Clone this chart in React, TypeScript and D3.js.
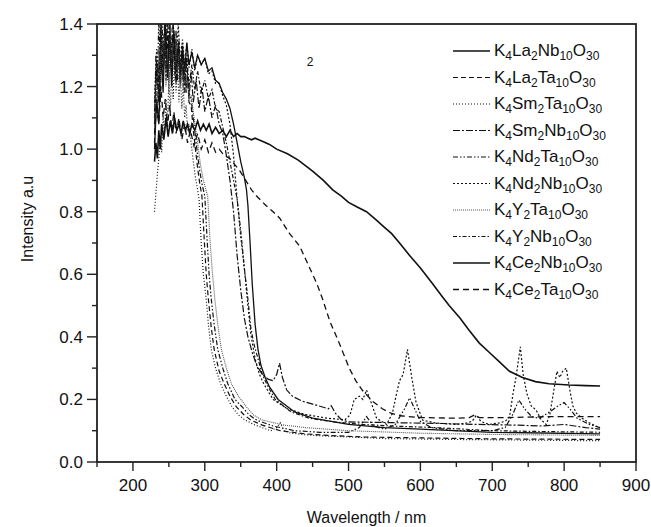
import React from "react";
import * as d3 from "d3";

type P = [number, number];

const xTicks = [200, 300, 400, 500, 600, 700, 800, 900];
const yTicks = [0.0, 0.2, 0.4, 0.6, 0.8, 1.0, 1.2, 1.4];

const La2Nb: P[] = [[230,1.00],[233,1.16],[236,1.08],[239,1.30],[242,1.18],[245,1.40],[248,1.24],[251,1.34],[254,1.20],[257,1.38],[260,1.26],[263,1.32],[266,1.22],[269,1.33],[272,1.25],[275,1.34],[278,1.27],[282,1.31],[286,1.26],[290,1.30],[295,1.27],[300,1.29],[305,1.25],[310,1.26],[315,1.22],[320,1.21],[325,1.18],[330,1.16],[335,1.13],[340,1.08],[345,1.02],[350,0.96],[355,0.91],[358,0.87],[360,0.82],[363,0.70],[366,0.57],[370,0.44],[374,0.36],[378,0.31],[384,0.27],[390,0.24],[402,0.20],[425,0.16],[450,0.14],[500,0.12],[550,0.11],[600,0.105],[700,0.095],[850,0.09]];

const La2Ta: P[] = [[230,1.02],[232,1.18],[234,1.10],[236,1.28],[238,1.15],[240,1.36],[242,1.20],[244,1.42],[246,1.25],[248,1.38],[250,1.22],[252,1.45],[254,1.28],[256,1.40],[258,1.24],[260,1.38],[262,1.26],[264,1.35],[266,1.22],[268,1.33],[270,1.20],[272,1.28],[274,1.18],[276,1.24],[278,1.15],[281,1.14],[284,1.06],[287,1.00],[290,0.94],[293,0.89],[296,0.85],[299,0.72],[302,0.60],[305,0.52],[309,0.43],[313,0.36],[320,0.29],[327,0.25],[335,0.21],[344,0.176],[354,0.152],[364,0.134],[380,0.118],[405,0.10],[440,0.09],[470,0.085],[520,0.08],[600,0.077],[700,0.074],[850,0.072]];

const Sm2Ta: P[] = [[230,0.80],[232,0.86],[234,0.92],[236,0.97],[238,1.04],[240,0.99],[242,1.10],[244,1.05],[246,1.16],[248,1.08],[250,1.22],[252,1.12],[254,1.26],[256,1.16],[258,1.30],[260,1.18],[262,1.28],[264,1.15],[266,1.24],[268,1.13],[270,1.20],[272,1.10],[274,1.14],[276,1.06],[278,1.08],[281,1.02],[284,0.96],[287,0.91],[290,0.87],[292,0.84],[295,0.70],[298,0.60],[302,0.52],[305,0.44],[309,0.36],[315,0.30],[322,0.25],[330,0.21],[338,0.176],[347,0.15],[356,0.134],[370,0.118],[392,0.10],[400,0.11],[405,0.125],[410,0.10],[420,0.092],[450,0.085],[500,0.08],[550,0.075],[650,0.072],[750,0.07],[850,0.068]];

const Sm2Nb: P[] = [[230,1.08],[233,1.25],[236,1.15],[239,1.38],[242,1.22],[245,1.45],[248,1.26],[251,1.40],[254,1.24],[257,1.35],[260,1.22],[263,1.33],[266,1.20],[269,1.30],[272,1.18],[275,1.28],[278,1.16],[281,1.25],[284,1.15],[288,1.22],[292,1.13],[296,1.20],[300,1.12],[305,1.17],[310,1.10],[315,1.14],[320,1.08],[325,1.05],[330,0.98],[335,0.90],[340,0.80],[345,0.66],[350,0.55],[355,0.46],[360,0.40],[366,0.35],[372,0.31],[380,0.28],[388,0.265],[395,0.26],[400,0.28],[404,0.316],[408,0.27],[414,0.23],[422,0.21],[435,0.195],[450,0.185],[465,0.175],[472,0.17],[476,0.18],[482,0.155],[490,0.135],[500,0.128],[530,0.127],[580,0.125],[630,0.123],[680,0.12],[730,0.118],[770,0.115],[800,0.12],[830,0.11],[850,0.105]];

const Nd2Ta: P[] = [[230,1.10],[232,1.30],[234,1.20],[236,1.42],[238,1.26],[240,1.45],[242,1.30],[244,1.38],[246,1.22],[248,1.44],[250,1.30],[252,1.36],[254,1.25],[256,1.42],[258,1.28],[260,1.34],[262,1.22],[264,1.32],[266,1.25],[268,1.30],[270,1.22],[272,1.27],[274,1.20],[276,1.23],[278,1.18],[281,1.16],[284,1.10],[287,1.04],[290,0.98],[293,0.93],[296,0.89],[300,0.85],[303,0.72],[306,0.60],[309,0.52],[313,0.44],[318,0.36],[325,0.30],[332,0.25],[342,0.20],[352,0.176],[362,0.15],[372,0.134],[395,0.115],[425,0.10],[460,0.095],[500,0.095],[515,0.11],[525,0.145],[535,0.115],[550,0.105],[565,0.12],[578,0.17],[585,0.205],[592,0.17],[600,0.13],[615,0.11],[650,0.10],[700,0.10],[718,0.11],[728,0.15],[737,0.198],[745,0.17],[755,0.145],[765,0.14],[780,0.16],[792,0.18],[800,0.19],[808,0.17],[818,0.14],[835,0.12],[850,0.11]];

const Nd2Nb: P[] = [[230,1.15],[233,1.32],[236,1.20],[239,1.44],[242,1.28],[245,1.38],[248,1.24],[251,1.42],[254,1.30],[257,1.37],[260,1.26],[263,1.40],[266,1.28],[269,1.35],[272,1.27],[275,1.34],[278,1.26],[282,1.32],[286,1.25],[290,1.30],[295,1.27],[300,1.29],[305,1.24],[310,1.25],[315,1.21],[320,1.21],[325,1.17],[330,1.14],[335,1.08],[340,0.98],[345,0.84],[350,0.72],[355,0.62],[360,0.50],[364,0.41],[370,0.33],[376,0.28],[382,0.25],[395,0.20],[415,0.17],[440,0.152],[470,0.14],[495,0.135],[502,0.15],[508,0.20],[515,0.21],[520,0.20],[525,0.23],[530,0.20],[539,0.14],[553,0.12],[561,0.155],[566,0.21],[571,0.26],[576,0.28],[582,0.36],[588,0.27],[594,0.19],[603,0.134],[620,0.125],[650,0.12],[665,0.125],[672,0.13],[678,0.15],[684,0.13],[695,0.12],[710,0.125],[718,0.13],[724,0.144],[729,0.22],[733,0.27],[739,0.368],[743,0.28],[748,0.22],[754,0.18],[761,0.166],[768,0.135],[775,0.12],[780,0.15],[785,0.22],[790,0.29],[794,0.27],[798,0.29],[803,0.30],[808,0.23],[812,0.18],[817,0.156],[825,0.14],[835,0.125],[849,0.11]];

const Y2Ta: P[] = [[230,1.05],[232,1.22],[234,1.14],[236,1.33],[238,1.20],[240,1.40],[242,1.24],[244,1.36],[246,1.20],[248,1.32],[250,1.18],[252,1.40],[254,1.26],[256,1.34],[258,1.22],[260,1.36],[262,1.24],[264,1.31],[266,1.20],[268,1.28],[270,1.19],[272,1.26],[274,1.18],[276,1.22],[278,1.16],[281,1.17],[284,1.12],[287,1.07],[290,1.02],[294,0.95],[298,0.90],[304,0.85],[307,0.72],[310,0.62],[314,0.52],[318,0.44],[323,0.36],[330,0.30],[337,0.25],[347,0.21],[358,0.176],[368,0.15],[380,0.134],[410,0.118],[440,0.11],[500,0.10],[600,0.092],[700,0.088],[850,0.085]];

const Y2Nb: P[] = [[230,1.12],[233,1.28],[236,1.18],[239,1.40],[242,1.24],[245,1.36],[248,1.22],[251,1.38],[254,1.25],[257,1.33],[260,1.21],[263,1.34],[266,1.24],[269,1.30],[272,1.22],[275,1.30],[278,1.20],[282,1.27],[286,1.19],[290,1.25],[295,1.18],[300,1.22],[305,1.16],[310,1.19],[315,1.13],[320,1.12],[325,1.07],[330,1.02],[335,0.96],[340,0.90],[345,0.84],[350,0.74],[355,0.62],[360,0.52],[364,0.43],[368,0.38],[374,0.33],[380,0.28],[386,0.25],[398,0.20],[420,0.16],[445,0.14],[480,0.128],[520,0.12],[560,0.115],[620,0.11],[700,0.10],[780,0.097],[850,0.095]];

const Ce2Nb: P[] = [[230,0.96],[232,1.02],[234,0.97],[236,1.06],[238,1.00],[240,1.08],[243,1.03],[246,1.10],[249,1.04],[252,1.09],[255,1.05],[258,1.10],[261,1.06],[264,1.08],[267,1.05],[270,1.09],[273,1.06],[276,1.08],[279,1.05],[282,1.08],[286,1.06],[290,1.09],[294,1.06],[298,1.08],[302,1.06],[306,1.08],[310,1.05],[315,1.07],[320,1.05],[325,1.06],[330,1.04],[335,1.06],[340,1.04],[345,1.05],[350,1.04],[355,1.04],[360,1.035],[365,1.03],[370,1.035],[375,1.03],[380,1.025],[390,1.015],[400,1.00],[415,0.985],[430,0.965],[450,0.93],[465,0.90],[478,0.87],[490,0.85],[500,0.83],[512,0.815],[525,0.80],[538,0.775],[550,0.75],[560,0.73],[571,0.70],[585,0.66],[600,0.62],[617,0.57],[630,0.53],[640,0.50],[655,0.46],[668,0.42],[682,0.38],[696,0.35],[710,0.32],[724,0.29],[742,0.27],[760,0.257],[779,0.25],[807,0.246],[830,0.244],[850,0.243]];

const Ce2Ta: P[] = [[230,1.05],[233,1.14],[236,1.08],[239,1.20],[242,1.10],[245,1.16],[248,1.07],[251,1.14],[254,1.06],[257,1.12],[260,1.05],[264,1.10],[268,1.03],[272,1.08],[276,1.02],[280,1.06],[285,1.01],[290,1.05],[295,1.00],[300,1.03],[305,0.99],[310,1.02],[315,0.99],[320,1.00],[327,0.98],[335,0.97],[342,0.95],[349,0.93],[357,0.90],[365,0.87],[372,0.85],[385,0.82],[395,0.80],[404,0.78],[418,0.73],[432,0.69],[442,0.64],[456,0.57],[464,0.52],[474,0.45],[487,0.38],[501,0.30],[510,0.26],[519,0.23],[533,0.195],[547,0.17],[560,0.155],[575,0.147],[600,0.142],[650,0.14],[668,0.142],[675,0.15],[682,0.142],[720,0.142],[780,0.145],[850,0.145]];

const seriesNames = [
  "K4La2Nb10O30", "K4La2Ta10O30", "K4Sm2Ta10O30", "K4Sm2Nb10O30", "K4Nd2Ta10O30",
  "K4Nd2Nb10O30", "K4Y2Ta10O30", "K4Y2Nb10O30", "K4Ce2Nb10O30", "K4Ce2Ta10O30",
];
const seriesData = [La2Nb, La2Ta, Sm2Ta, Sm2Nb, Nd2Ta, Nd2Nb, Y2Ta, Y2Nb, Ce2Nb, Ce2Ta];
const seriesDash = ["", "5,3", "1,2", "7,2,2,2", "5,2,1.5,2,1.5,2", "2,2", "1,1", "4,2,1.5,2", "", "6,4"];
const seriesWidth = [1.3, 1.2, 1.2, 1.2, 1.2, 1.2, 1.1, 1.2, 1.6, 1.3];
const seriesColor = ["#111", "#111", "#111", "#111", "#111", "#111", "#555", "#111", "#111", "#111"];

const W = 651, H = 527;
const L = 97, R = 636, T = 24, B = 462;
const FONT = "'Liberation Sans', Arial, Helvetica, sans-serif";

function Formula({ text, x, y }: { text: string; x: number; y: number }) {
  const parts = text.match(/[A-Za-z]+|\d+/g) || [];
  const out: React.ReactNode[] = [];
  let sub = false;
  parts.forEach((p, i) => {
    const isNum = /\d/.test(p);
    let dy = 0;
    if (isNum && !sub) { dy = 4; sub = true; }
    else if (!isNum && sub) { dy = -4; sub = false; }
    out.push(
      <tspan key={i} dy={dy} fontSize={isNum ? 12 : 17}>{p}</tspan>
    );
  });
  return <text x={x} y={y} fontFamily={FONT} fill="#111">{out}</text>;
}

export default function App() {
  const x = d3.scaleLinear().domain([150, 900]).range([L, R]);
  const y = d3.scaleLinear().domain([0, 1.4]).range([B, T]);
  const line = d3.line<P>().x(d => x(d[0])).y(d => y(d[1]));
  const xMinor = d3.range(150, 901, 50);
  const yMinor = d3.range(0, 1.41, 0.1);
  return (
    <svg width={W} height={H} style={{ position: "absolute", left: 0, top: 0, background: "#fff" }}>
      <defs>
        <clipPath id="plot"><rect x={L} y={T} width={R - L} height={B - T} /></clipPath>
      </defs>
      <rect x={0} y={0} width={W} height={H} fill="#fff" />
      <g clipPath="url(#plot)">
        {seriesData.map((s, i) => (
          <path key={i} d={line(s) || ""} fill="none" stroke={seriesColor[i]}
            strokeWidth={seriesWidth[i]} strokeDasharray={seriesDash[i] || undefined} />
        ))}
      </g>
      <rect x={L} y={T} width={R - L} height={B - T} fill="none" stroke="#222" strokeWidth={1.8} />
      {xMinor.map(v => (
        <line key={"xm" + v} x1={x(v)} x2={x(v)} y1={B} y2={B + (v % 100 === 0 ? 9 : 5)} stroke="#222" strokeWidth={1.4} />
      ))}
      {xTicks.map(v => (
        <text key={"xt" + v} x={x(v)} y={491} textAnchor="middle" fontFamily={FONT} fontSize={17} fill="#111">{v}</text>
      ))}
      {yMinor.map((v, i) => (
        <line key={"ym" + i} x1={L - (i % 2 === 0 ? 10 : 5)} x2={L} y1={y(v)} y2={y(v)} stroke="#222" strokeWidth={1.4} />
      ))}
      {yTicks.map(v => (
        <text key={"yt" + v} x={83} y={y(v)} dy="0.35em" textAnchor="end" fontFamily={FONT} fontSize={17} fill="#111">{v.toFixed(1)}</text>
      ))}
      <text x={(L + R) / 2} y={523} textAnchor="middle" fontFamily={FONT} fontSize={16} fill="#111">Wavelength / nm</text>
      <text transform={`translate(33,219) rotate(-90)`} textAnchor="middle" fontFamily={FONT} fontSize={16} fill="#111">Intensity a.u</text>
      <text x={310} y={66} textAnchor="middle" fontFamily={FONT} fontSize={12} fill="#111">2</text>
      {seriesNames.map((n, i) => {
        const ly = 51 + i * 26.5;
        return (
          <g key={"lg" + i}>
            <line x1={453} x2={490} y1={ly} y2={ly} stroke={seriesColor[i]} strokeWidth={seriesWidth[i]}
              strokeDasharray={seriesDash[i] || undefined} />
            <Formula text={n} x={494} y={ly + 5} />
          </g>
        );
      })}
    </svg>
  );
}
